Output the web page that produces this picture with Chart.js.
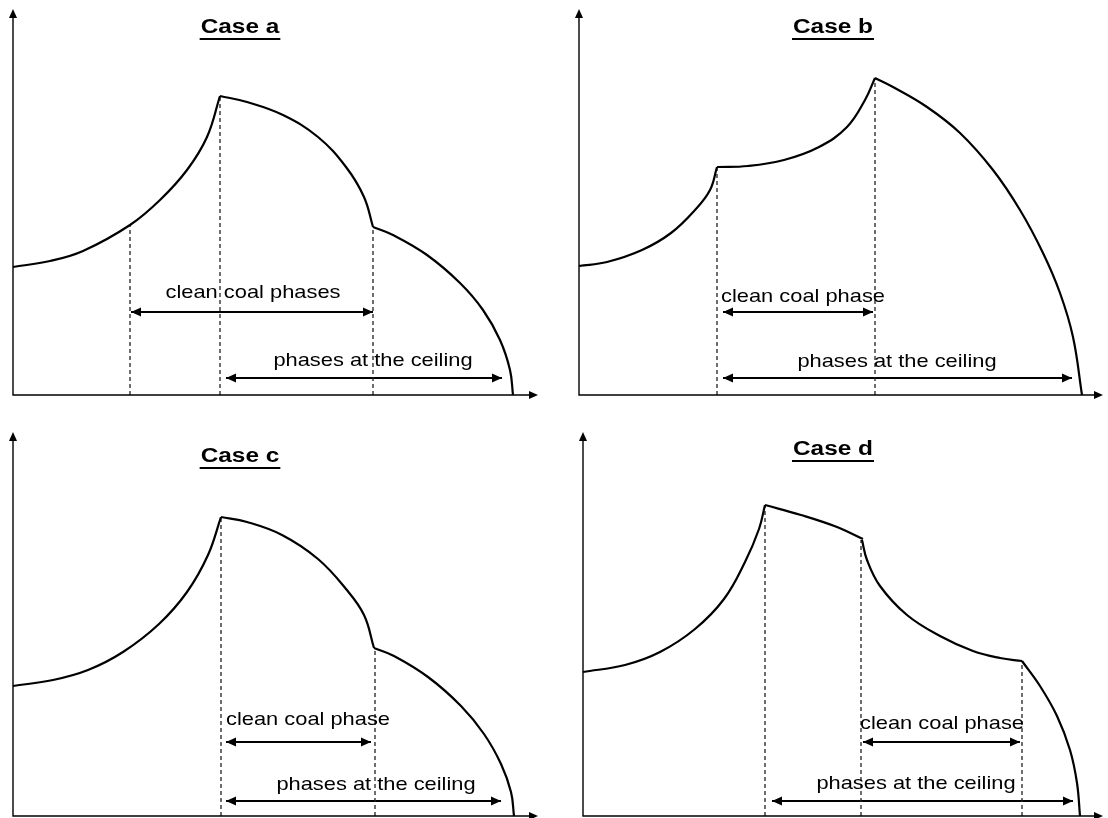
<!DOCTYPE html>
<html>
<head>
<meta charset="utf-8">
<script src="https://cdn.jsdelivr.net/npm/chart.js@4.4.1/dist/chart.umd.min.js"></script>
<style>
  html, body { margin: 0; padding: 0; background: #fff; width: 1108px; height: 818px; overflow: hidden; }
  canvas { position: absolute; }
</style>
</head>
<body>
<canvas id="caseA" width="554" height="409" style="left:0;top:0"></canvas>
<canvas id="caseB" width="554" height="409" style="left:554px;top:0"></canvas>
<canvas id="caseC" width="554" height="409" style="left:0;top:409px"></canvas>
<canvas id="caseD" width="554" height="409" style="left:554px;top:409px"></canvas>
<script>
// values, in units from each panel's origin
const titles = ['Case a', 'Case b', 'Case c', 'Case d'];
const labelClean = ['clean coal phases', 'clean coal phase', 'clean coal phase', 'clean coal phase'];
const labelCeiling = 'phases at the ceiling';

// case a
const aSeg1 = [[0,128],[37,134],[70,144],[117,170],[147,195],[174,225],[194,258],[207,299]];
const aSeg2 = [[207,299],[234,293],[270,280],[305,258],[333,228],[351,198],[360,168]];
const aSeg3 = [[360,168],[380,160],[414,140],[447,112],[470,85],[487,55],[497,25],[500,0]];
const aBounds = [[117,170],[207,299],[360,168]];
const aSpans = [[118,360,83],[213,489,17]];
const aLabelPos = [[240,97],[360,29]];

// case b
const bSeg1 = [[0,129],[28,133],[63,145],[92,162],[116,185],[131,205],[138,228]];
const bSeg2 = [[138,228],[169,229],[205,235],[240,248],[268,268],[286,295],[296,317]];
const bSeg3 = [[296,317],[314,308],[348,288],[381,262],[414,225],[441,185],[464,142],[481,102],[494,58],[503,0]];
const bBounds = [[138,228],[296,317]];
const bSpans = [[144,294,83],[144,493,17]];
const bLabelPos = [[224,93],[318,28]];

// case c
const cSeg1 = [[0,130],[40,136],[75,146],[110,164],[146,192],[174,224],[195,261],[208,299]];
const cSeg2 = [[208,299],[234,294],[269,281],[305,257],[333,227],[351,201],[361,168]];
const cSeg3 = [[361,168],[381,160],[415,139],[448,110],[471,82],[488,52],[498,24],[501,0]];
const cBounds = [[208,299],[362,168]];
const cSpans = [[213,358,74],[213,488,15]];
const cLabelPos = [[295,91],[363,26]];

// case d
const dSeg1 = [[0,144],[42,151],[77,164],[112,187],[141,217],[162,254],[176,287],[182,311]];
const dSeg2 = [[182,311],[218,301],[254,289],[280,277]];
const dSeg3 = [[279,276],[284,256],[297,230],[324,201],[357,180],[390,165],[417,158],[439,155]];
const dSeg4 = [[439,155],[457,130],[474,100],[487,66],[494,33],[497,0]];
const dBounds = [[182,311],[278,276],[439,155]];
const dSpans = [[280,437,74],[189,490,15]];
const dLabelPos = [[359,87],[333,27]];

function head(ctx, x, y, dx, dy, len, half) {
  // filled triangle with its tip at (x, y), pointing along (dx, dy)
  ctx.beginPath();
  ctx.moveTo(x, y);
  ctx.lineTo(x - dx * len - dy * half, y - dy * len - dx * half);
  ctx.lineTo(x - dx * len + dy * half, y - dy * len + dx * half);
  ctx.closePath();
  ctx.fill();
}

function stretchText(ctx, text, cx, by, font, sx) {
  ctx.save();
  ctx.font = font;
  ctx.translate(cx, by);
  ctx.scale(sx, 1);
  ctx.textAlign = 'center';
  ctx.textBaseline = 'alphabetic';
  ctx.fillText(text, 0, 0);
  const w = ctx.measureText(text).width * sx;
  ctx.restore();
  return w;
}

function sketchPlugin(p) {
  return {
    id: 'sketch',
    afterDatasetsDraw(chart) {
      const { ctx, chartArea: a, scales: { x, y } } = chart;
      ctx.save();
      ctx.fillStyle = '#000';
      ctx.strokeStyle = '#000';

      // axes with arrow tips
      ctx.lineWidth = 1.4;
      ctx.beginPath();
      ctx.moveTo(a.left, a.top + 8);
      ctx.lineTo(a.left, a.bottom);
      ctx.lineTo(a.right - 8, a.bottom);
      ctx.stroke();
      head(ctx, a.left, a.top, 0, -1, 9, 4);
      head(ctx, a.right, a.bottom, 1, 0, 9, 4);

      // double headed span arrows
      chart.data.datasets.forEach((ds, i) => {
        if (!ds.arrow) return;
        const pts = chart.getDatasetMeta(i).data;
        head(ctx, pts[0].x, pts[0].y, -1, 0, 10, 4.5);
        head(ctx, pts[1].x, pts[1].y, 1, 0, 10, 4.5);
      });

      // span labels
      const font = '19px "Liberation Sans", Arial, sans-serif';
      p.labels.forEach((t, i) => {
        const [lx, ly] = p.labelPos[i];
        stretchText(ctx, t, x.getPixelForValue(lx), y.getPixelForValue(ly), font, 1.15);
      });

      // underlined title
      const [tx, ty] = p.titlePos;
      const w = stretchText(ctx, p.title, tx, ty, 'bold 20px "Liberation Sans", Arial, sans-serif', 1.22);
      ctx.lineWidth = 2;
      ctx.beginPath();
      ctx.moveTo(tx - w / 2 - 1, ty + 6);
      ctx.lineTo(tx + w / 2 + 1, ty + 6);
      ctx.stroke();
      ctx.restore();
    }
  };
}

function makeCase(canvasId, p) {
  const datasets = [];
  p.segments.forEach(seg => datasets.push({
    data: seg.map(([px, py]) => ({ x: px, y: py })),
    showLine: true, borderColor: '#000', borderWidth: 2.2,
    tension: 0.4, pointRadius: 0, clip: false
  }));
  p.bounds.forEach(([bx, by]) => datasets.push({
    data: [{ x: bx, y: 0 }, { x: bx, y: by }],
    showLine: true, borderColor: '#222', borderWidth: 1.3,
    borderDash: [4, 3], pointRadius: 0, clip: false
  }));
  p.spans.forEach(([x1, x2, sy]) => datasets.push({
    data: [{ x: x1, y: sy }, { x: x2, y: sy }],
    showLine: true, borderColor: '#000', borderWidth: 1.8,
    pointRadius: 0, clip: false, arrow: true
  }));

  return new Chart(document.getElementById(canvasId), {
    type: 'scatter',
    data: { datasets },
    options: {
      responsive: false,
      animation: false,
      events: [],
      layout: { padding: p.padding },
      scales: {
        x: { type: 'linear', display: false, min: 0, max: p.xMax },
        y: { type: 'linear', display: false, min: 0, max: p.yMax }
      },
      plugins: { legend: { display: false }, tooltip: { enabled: false } }
    },
    plugins: [sketchPlugin(p)]
  });
}

makeCase('caseA', {
  segments: [aSeg1, aSeg2, aSeg3], bounds: aBounds, spans: aSpans,
  labels: [labelClean[0], labelCeiling], labelPos: aLabelPos,
  title: titles[0], titlePos: [240, 33],
  padding: { left: 13, top: 9, right: 16, bottom: 14 }, xMax: 525, yMax: 386
});
makeCase('caseB', {
  segments: [bSeg1, bSeg2, bSeg3], bounds: bBounds, spans: bSpans,
  labels: [labelClean[1], labelCeiling], labelPos: bLabelPos,
  title: titles[1], titlePos: [279, 33],
  padding: { left: 25, top: 9, right: 5, bottom: 14 }, xMax: 524, yMax: 386
});
makeCase('caseC', {
  segments: [cSeg1, cSeg2, cSeg3], bounds: cBounds, spans: cSpans,
  labels: [labelClean[2], labelCeiling], labelPos: cLabelPos,
  title: titles[2], titlePos: [240, 53],
  padding: { left: 13, top: 23, right: 16, bottom: 2 }, xMax: 525, yMax: 384
});
makeCase('caseD', {
  segments: [dSeg1, dSeg2, dSeg3, dSeg4], bounds: dBounds, spans: dSpans,
  labels: [labelClean[3], labelCeiling], labelPos: dLabelPos,
  title: titles[3], titlePos: [279, 46],
  padding: { left: 29, top: 23, right: 5, bottom: 2 }, xMax: 520, yMax: 384
});
</script>
</body>
</html>
